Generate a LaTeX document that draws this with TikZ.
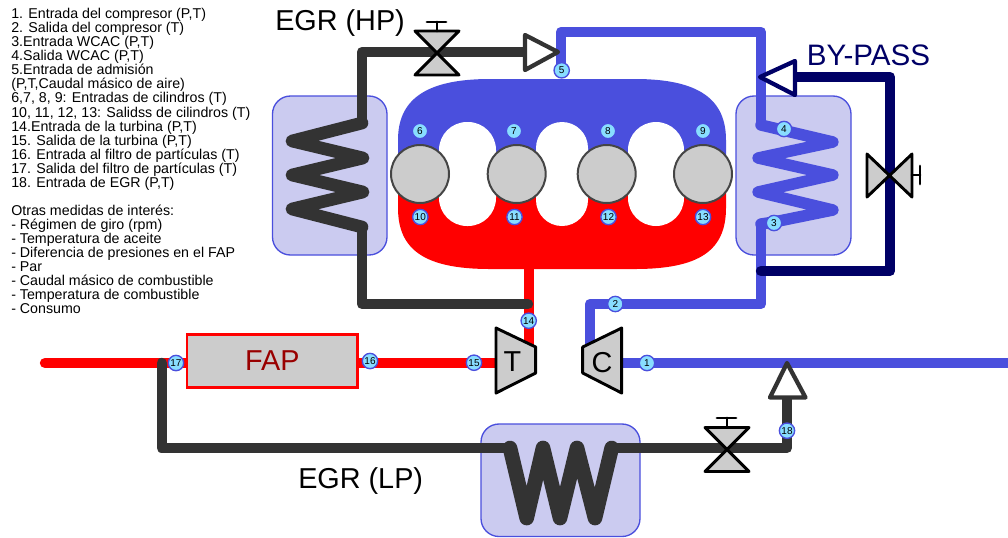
\documentclass[tikz,border=0pt]{standalone}
\usepackage{fontspec}
\setmainfont{Liberation Sans}
\definecolor{airblue}{HTML}{4A4FDD}
\definecolor{hxfill}{HTML}{CBCBF0}
\definecolor{egrgray}{HTML}{333333}
\definecolor{bypassnavy}{HTML}{000066}
\definecolor{partgray}{HTML}{CCCCCC}
\definecolor{sensorfill}{HTML}{88DDFF}
\definecolor{fapred}{HTML}{990000}
\tikzset{
  pipe/.style={line width=7.8pt,line cap=round,line join=round},
  airpipe/.style={pipe,draw=airblue},
  gaspipe/.style={pipe,draw=red},
  egrpipe/.style={pipe,draw=egrgray},
  bypipe/.style={pipe,draw=bypassnavy},
  hxbox/.style={draw=airblue,fill=hxfill,line width=1pt,rounded corners=13.5pt},
  sensor/.style={circle,draw=airblue,fill=sensorfill,line width=1pt,inner sep=0pt,minimum size=11.5pt,text=black,font=\fontsize{7.5}{8}\selectfont},
  cylinder/.style={circle,draw=black!73,fill=partgray,line width=1.5pt,inner sep=0pt,minimum size=43.5pt},
  valvepart/.style={draw=black,fill=partgray,line width=2.2pt,line join=round},
  handle/.style={draw=black,line width=2.2pt,line cap=round},
  arrowtri/.style={fill=white,line width=3.2pt,line join=round},
  bigtext/.style={font=\fontsize{21.6}{24}\selectfont,inner sep=0pt,anchor=base west},
  hole/.style={fill=white,draw=none}
}
\begin{document}
\begin{tikzpicture}[x=0.75pt,y=-0.75pt]
\useasboundingbox (0,0) rectangle (1008,537);
\fill[white] (0,0) rectangle (1008,537);
% text list
\node[anchor=north west,inner sep=0pt,align=left,font=\fontsize{10.67}{10.55}\selectfont] (legend) at (11,8) {1. Entrada del compresor (P,T)\\
2. Salida del compresor (T)\\
3.Entrada WCAC (P,T)\\
4.Salida WCAC (P,T)\\
5.Entrada de admisión\\
(P,T,Caudal másico de aire)\\
6,7, 8, 9: Entradas de cilindros (T)\\
10, 11, 12, 13: Salidss de cilindros (T)\\
14.Entrada de la turbina (P,T)\\
15. Salida de la turbina (P,T)\\
16. Entrada al filtro de partículas (T)\\
17. Salida del filtro de partículas (T)\\
18. Entrada de EGR (P,T)\\[10.55pt]
Otras medidas de interés:\\
- Régimen de giro (rpm)\\
- Temperatura de aceite\\
- Diferencia de presiones en el FAP\\
- Par\\
- Caudal másico de combustible\\
- Temperatura de combustible\\
- Consumo};
% heat exchanger boxes
\draw[hxbox] (272.5,96) rectangle (387,255);
\draw[hxbox] (736,96) rectangle (851,255);
\draw[hxbox] (481,424) rectangle (640,536.5);
% manifolds
\fill[airblue] (398,174) -- (398,140) .. controls (398,100) and (425,79) .. (490,79) -- (635,79) .. controls (700,79) and (726,100) .. (726,140) -- (726,174) -- cycle;
\fill[red] (398,174) -- (398,208) .. controls (398,250) and (425,269) .. (490,269) -- (635,269) .. controls (700,269) and (726,250) .. (726,208) -- (726,174) -- cycle;
\fill[hole,rounded corners=21pt] (439,122) -- (496,122) -- (496,226) -- (439,226) -- cycle;
\fill[hole,rounded corners=19.5pt] (536,122) -- (588,122) -- (588,226) -- (536,226) -- cycle;
\fill[hole,rounded corners=21pt] (628,122) -- (684,122) -- (684,226) -- (628,226) -- cycle;
% coordinates
\coordinate (fapstart) at (45,363);
\coordinate (c1in) at (1012,363);
\coordinate (ex) at (529,269);
\coordinate (tin) at (529,345);
\coordinate (tout) at (496,363);
\coordinate (cin) at (622,363);
\coordinate (cout) at (590,345);
% air path
\draw[airpipe] (cin) -- (c1in);
\draw[airpipe] (cout) -- (590,304) -- (761,304) -- (761,224);
\draw[airpipe] (761,125) -- (761,32) -- (561,32) -- (561,72);
\draw[airpipe,line width=8.6pt] (761,224) -- (774,222) -- (833,210) -- (758,192) -- (833,175) -- (758,158) -- (833,142) -- (761,125);
% gas path
\draw[gaspipe] (ex) -- (tin);
\draw[gaspipe] (fapstart) -- (tout);
% bypass
\draw[bypipe] (761,271) -- (890,271) -- (890,77) -- (795,77);
\draw[arrowtri,draw=bypassnavy] (795,61) -- (795,95) -- (760,77) -- cycle;
% EGR HP
\draw[egrpipe] (528,304) -- (362,304) -- (362,227);
\draw[egrpipe] (362,123) -- (362,52) -- (525,52);
\draw[egrpipe,line width=9.5pt] (362,227) -- (292,209) -- (363,192) -- (292,175) -- (363,158) -- (292,141) -- (362,123);
\draw[arrowtri,draw=egrgray] (525,35) -- (525,70) -- (558,52) -- cycle;
% EGR LP
\draw[egrpipe] (161.7,363) -- (161.7,448) -- (510,448);
\draw[egrpipe] (611.7,448) -- (787,448) -- (787,398);
\draw[egrpipe,line width=11pt] (510,448) -- (526.7,518) -- (543,448) -- (560,518) -- (577,448) -- (595,518) -- (611.7,448);
\draw[arrowtri,draw=egrgray] (770,397.5) -- (805.5,397.5) -- (787,363) -- cycle;
% valves
\draw[valvepart] (415,31) -- (459,31) -- (415,75) -- (459,75) -- cycle;
\draw[handle] (437,31) -- (437,22) (427,22) -- (446,22);
\draw[valvepart] (705,427.5) -- (749,427.5) -- (705,471.5) -- (749,471.5) -- cycle;
\draw[handle] (727,427.5) -- (727,418) (717,418) -- (736,418);
\draw[valvepart] (867,154) -- (867,197) -- (912,154) -- (912,197) -- cycle;
\draw[handle] (912,175) -- (920,175) (920,166) -- (920,184);
% FAP, turbine and compressor
\node[draw=red,fill=partgray,line width=2.2pt,minimum width=128pt,minimum height=39.5pt,inner sep=0pt,text=fapred,font=\fontsize{21.6}{24}\selectfont] (fap) at (272.3,361) {FAP};
\draw[valvepart] (496,328) -- (535.7,347) -- (535.7,373) -- (496,393) -- cycle;
\node[inner sep=0pt,font=\fontsize{21.6}{24}\selectfont] (tlabel) at (512.5,362) {T};
\draw[valvepart] (621.7,328) -- (582.7,347) -- (582.7,373) -- (621.7,393) -- cycle;
\node[inner sep=0pt,font=\fontsize{21.6}{24}\selectfont] (clabel) at (602,363) {C};
% cylinders
\node[cylinder] (cyl1) at (420,174) {};
\node[cylinder] (cyl2) at (516.7,174) {};
\node[cylinder] (cyl3) at (606.7,174) {};
\node[cylinder] (cyl4) at (703,174) {};
% sensors
\node[sensor] (s1) at (647,363) {1};
\node[sensor] (s2) at (615.3,304) {2};
\node[sensor] (s3) at (774,223) {3};
\node[sensor] (s4) at (784,129) {4};
\node[sensor] (s5) at (561.7,70.3) {5};
\node[sensor] (s6) at (420,131) {6};
\node[sensor] (s7) at (514,131) {7};
\node[sensor] (s8) at (608,131) {8};
\node[sensor] (s9) at (703,131) {9};
\node[sensor] (s10) at (420.3,217) {10};
\node[sensor] (s11) at (514.5,217) {11};
\node[sensor] (s12) at (608.5,217) {12};
\node[sensor] (s13) at (703,217) {13};
\node[sensor] (s14) at (528.7,320.7) {14};
\node[sensor] (s15) at (474,362.7) {15};
\node[sensor] (s16) at (370,361) {16};
\node[sensor] (s17) at (176,363) {17};
\node[sensor] (s18) at (787,430.7) {18};
% big labels
\node[bigtext] (hp) at (275,30.7) {EGR (HP)};
\node[bigtext] (lp) at (298,488) {EGR (LP)};
\node[bigtext,text=bypassnavy,font=\fontsize{22.2}{24}\selectfont] (by) at (806.5,65) {BY-PASS};
\end{tikzpicture}
\end{document}
